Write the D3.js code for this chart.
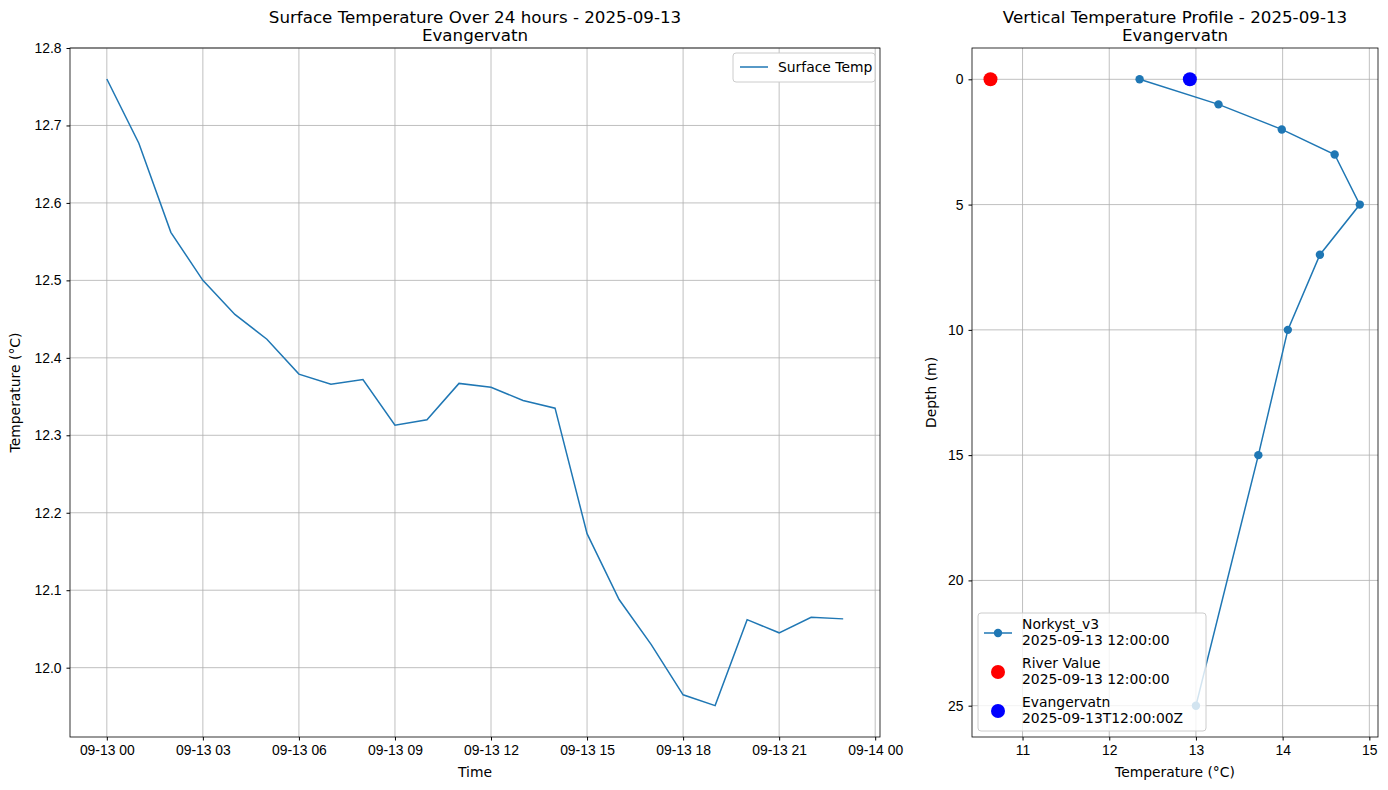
<!DOCTYPE html>
<html><head><meta charset="utf-8">
<script src="https://cdn.jsdelivr.net/npm/d3@7"></script>
<style>body{margin:0;background:#fff}svg{font-family:"DejaVu Sans",sans-serif}</style>
</head><body><svg id="c" width="1388" height="790"></svg>
<script>
const hours = d3.range(24);
const surfaceTemp = [12.76,12.677,12.562,12.50,12.456,12.424,12.379,12.366,12.372,12.313,12.320,12.367,12.362,12.345,12.335,12.173,12.088,12.030,11.965,11.951,12.062,12.045,12.065,12.063];
const depths = [0,1,2,3,5,7,10,15,25];
const profileTemp = [12.35,13.26,13.99,14.60,14.89,14.43,14.06,13.72,13.0];
const riverValue = 10.63, lakeValue = 12.93;
const timeTicks = ["09-13 00","09-13 03","09-13 06","09-13 09","09-13 12","09-13 15","09-13 18","09-13 21","09-14 00"];
const blue = "#1f77b4";
const FS = 13.9, TS = 16.7;
const svg = d3.select("#c");

function grid(g, x, y, xt, yt, w, h){
  g.selectAll(".gx").data(xt).join("line").attr("x1",d=>x(d)).attr("x2",d=>x(d)).attr("y1",0).attr("y2",h).attr("stroke","#b0b0b0").attr("stroke-width",0.8);
  g.selectAll(".gy").data(yt).join("line").attr("y1",d=>y(d)).attr("y2",d=>y(d)).attr("x1",0).attr("x2",w).attr("stroke","#b0b0b0").attr("stroke-width",0.8);
}
function frame(g,w,h){ g.append("rect").attr("width",w).attr("height",h).attr("fill","none").attr("stroke","#000").attr("stroke-width",0.8); }
function styleAxis(a){ a.select(".domain").remove(); a.selectAll("text").attr("font-size",FS).attr("fill","#000"); a.selectAll("line").attr("stroke","#000"); }

// Left panel
{
  const L=70,T=48,W=810,H=689;
  const g=svg.append("g").attr("transform",`translate(${L},${T})`);
  const x=d3.scaleLinear().domain([-1.15,24.15]).range([0,W]);
  const y=d3.scaleLinear().domain([11.9105,12.80]).range([H,0]);
  const xt=d3.range(0,25,3), yt=d3.range(12.0,12.81,0.1).map(v=>+v.toFixed(1));
  grid(g,x,y,xt,yt,W,H);
  g.append("path").datum(hours).attr("fill","none").attr("stroke",blue).attr("stroke-width",1.5)
    .attr("d",d3.line().x(d=>x(d)).y(d=>y(surfaceTemp[d])));
  frame(g,W,H);
  styleAxis(g.append("g").attr("transform",`translate(0,${H})`).call(d3.axisBottom(x).tickValues(xt).tickFormat((d,i)=>timeTicks[i]).tickSize(3.5).tickPadding(5)));
  styleAxis(g.append("g").call(d3.axisLeft(y).tickValues(yt).tickFormat(d3.format(".1f")).tickSize(3.5).tickPadding(5)));
  g.append("text").attr("x",W/2).attr("y",H+40).attr("text-anchor","middle").attr("font-size",FS).text("Time");
  g.append("text").attr("transform",`translate(-50,${H/2}) rotate(-90)`).attr("text-anchor","middle").attr("font-size",FS).text("Temperature (°C)");
  g.append("text").attr("x",W/2).attr("y",-25).attr("text-anchor","middle").attr("font-size",TS).text("Surface Temperature Over 24 hours - 2025-09-13");
  g.append("text").attr("x",W/2).attr("y",-7).attr("text-anchor","middle").attr("font-size",TS).text("Evangervatn");
  const lg=g.append("g").attr("transform",`translate(${W-147},5)`);
  lg.append("rect").attr("width",142).attr("height",29).attr("rx",3).attr("fill","#fff").attr("stroke","#ccc");
  lg.append("line").attr("x1",7).attr("x2",35).attr("y1",14).attr("y2",14).attr("stroke",blue).attr("stroke-width",1.5);
  lg.append("text").attr("x",45).attr("y",19).attr("font-size",FS).text("Surface Temp");
}

// Right panel
{
  const L=972,T=48,W=406,H=689;
  const g=svg.append("g").attr("transform",`translate(${L},${T})`);
  const x=d3.scaleLinear().domain([10.417,15.10]).range([0,W]);
  const y=d3.scaleLinear().domain([-1.25,26.25]).range([0,H]);
  const xt=[11,12,13,14,15], yt=[0,5,10,15,20,25];
  grid(g,x,y,xt,yt,W,H);
  g.append("path").datum(depths).attr("fill","none").attr("stroke",blue).attr("stroke-width",1.5)
    .attr("d",d3.line().x((d,i)=>x(profileTemp[i])).y(d=>y(d)));
  g.selectAll(".pt").data(depths).join("circle").attr("cx",(d,i)=>x(profileTemp[i])).attr("cy",d=>y(d)).attr("r",4.2).attr("fill",blue);
  g.append("circle").attr("cx",x(riverValue)).attr("cy",y(0)).attr("r",7).attr("fill","red");
  g.append("circle").attr("cx",x(lakeValue)).attr("cy",y(0)).attr("r",7).attr("fill","blue");
  frame(g,W,H);
  styleAxis(g.append("g").attr("transform",`translate(0,${H})`).call(d3.axisBottom(x).tickValues(xt).tickFormat(d3.format("d")).tickSize(3.5).tickPadding(5)));
  styleAxis(g.append("g").call(d3.axisLeft(y).tickValues(yt).tickSize(3.5).tickPadding(5)));
  g.append("text").attr("x",W/2).attr("y",H+40).attr("text-anchor","middle").attr("font-size",FS).text("Temperature (°C)");
  g.append("text").attr("transform",`translate(-36,${H/2}) rotate(-90)`).attr("text-anchor","middle").attr("font-size",FS).text("Depth (m)");
  g.append("text").attr("x",W/2).attr("y",-25).attr("text-anchor","middle").attr("font-size",TS).text("Vertical Temperature Profile - 2025-09-13");
  g.append("text").attr("x",W/2).attr("y",-7).attr("text-anchor","middle").attr("font-size",TS).text("Evangervatn");
  const lg=g.append("g").attr("transform",`translate(6,${H-124})`);
  lg.append("rect").attr("width",228).attr("height",118).attr("rx",3).attr("fill","#fff").attr("fill-opacity",0.8).attr("stroke","#ccc");
  const items=[["line",blue,"Norkyst_v3","2025-09-13 12:00:00"],["dot","red","River Value","2025-09-13 12:00:00"],["dot","blue","Evangervatn","2025-09-13T12:00:00Z"]];
  items.forEach((it,i)=>{
    const yy=20+i*39;
    if(it[0]==="line"){
      lg.append("line").attr("x1",6).attr("x2",34).attr("y1",yy).attr("y2",yy).attr("stroke",it[1]).attr("stroke-width",1.5);
      lg.append("circle").attr("cx",20).attr("cy",yy).attr("r",4.2).attr("fill",it[1]);
    } else lg.append("circle").attr("cx",20).attr("cy",yy).attr("r",7).attr("fill",it[1]);
    lg.append("text").attr("x",44).attr("y",yy-4).attr("font-size",FS).text(it[2]);
    lg.append("text").attr("x",44).attr("y",yy+12).attr("font-size",FS).text(it[3]);
  });
}
</script></body></html>
